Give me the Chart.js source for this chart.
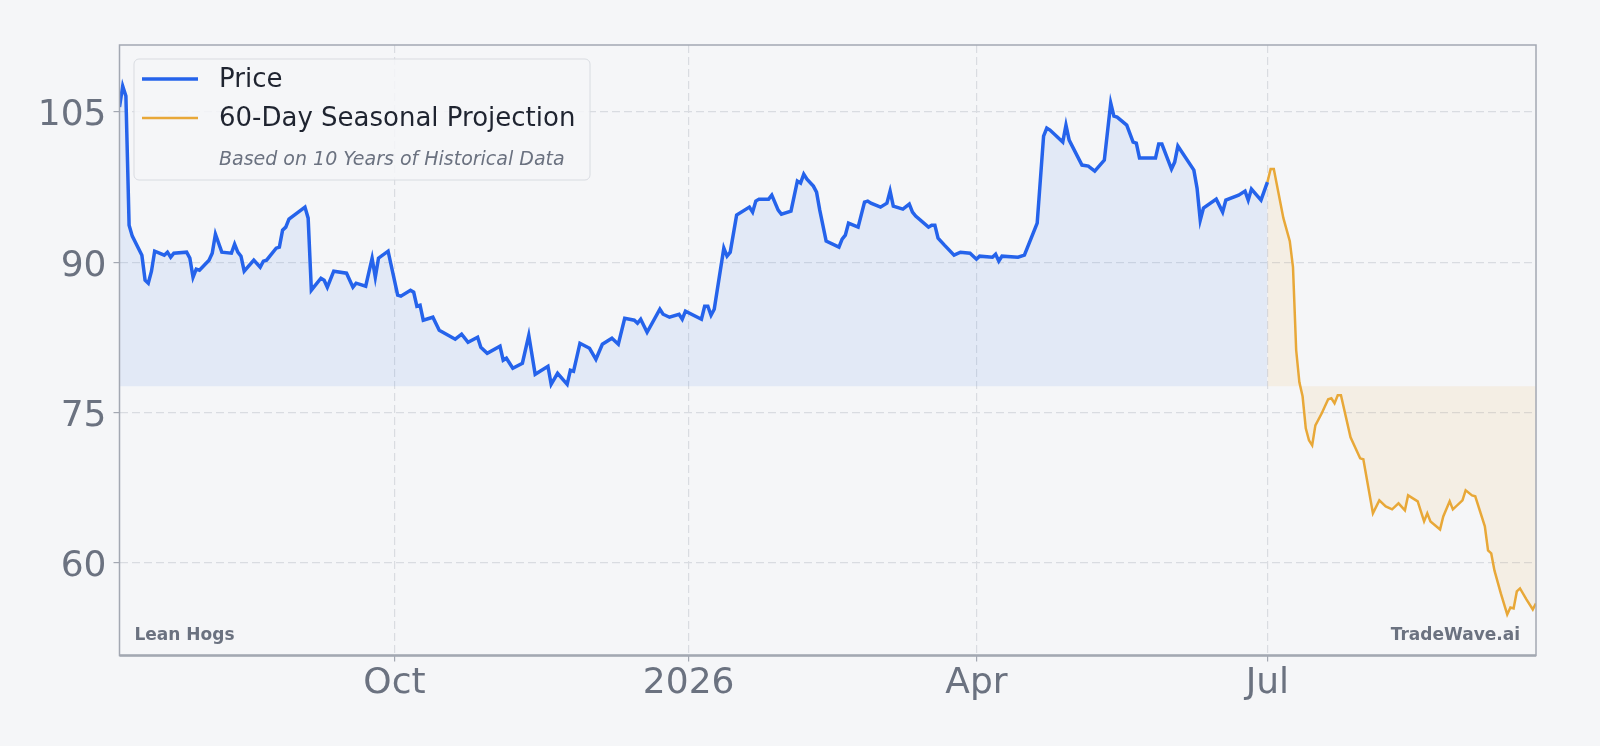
<!DOCTYPE html>
<html>
<head>
<meta charset="utf-8">
<title>Lean Hogs - Seasonal Projection</title>
<script src="https://cdn.jsdelivr.net/npm/chart.js@4.4.1/dist/chart.umd.min.js"></script>
<style>
    html, body { margin: 0; padding: 0; background: #f5f6f8; }
    #wrap { width: 1600px; height: 746px; position: relative; }
</style>
</head>
<body>
<div id="wrap"><canvas id="price-chart"></canvas></div>
<script>
// Days counted from 2025-07-07 (first price bar)
const priceDays = [
    0, 1, 2, 3, 4, 7, 8, 9, 10, 11, 14, 15, 16, 17, 21, 22, 23, 24, 25, 28,
    29, 30, 32, 35, 36, 37, 38, 39, 42, 44, 45, 46, 49, 50, 51, 52, 53, 58, 59, 60,
    63, 64, 65, 67, 71, 73, 74, 77, 79, 80, 81, 84, 87, 88, 91, 92, 93, 94, 95, 98,
    100, 105, 107, 109, 112, 113, 115, 119, 120, 121, 123, 126, 128, 130, 134, 135, 137, 140, 141, 142,
    144, 147, 149, 151, 154, 156, 158, 161, 162, 163, 165, 169, 170, 172, 175, 176, 177, 182, 183, 184,
    185, 186, 189, 190, 191, 193, 197, 198, 199, 200, 203, 204, 206, 207, 210, 212, 213, 214, 215, 217,
    218, 219, 221, 225, 226, 227, 228, 231, 233, 234, 235, 238, 240, 241, 242, 245, 247, 248, 249, 253,
    254, 255, 256, 258, 261, 263, 266, 268, 269, 273, 274, 275, 276, 281, 283, 287, 289, 290, 291, 295,
    296, 297, 301, 303, 305, 308, 310, 311, 312, 315, 317, 318, 319, 324, 325, 326, 329, 330, 331, 336,
    337, 338, 339, 343, 345, 346, 350, 352, 353, 354, 357, 359
];
const priceValues = [
    105.5, 107.6, 106.6, 93.7, 92.6, 90.7, 88.2, 87.9, 89.1, 91.1, 90.7, 91.0, 90.5, 90.9, 91.0, 90.4, 88.5, 89.3, 89.2, 90.2,
    90.9, 92.8, 91.0, 90.9, 91.8, 91.0, 90.6, 89.1, 90.2, 89.5, 90.1, 90.2, 91.4, 91.5, 93.2, 93.5, 94.3, 95.5, 94.4, 87.2,
    88.4, 88.2, 87.5, 89.1, 88.9, 87.5, 87.9, 87.6, 90.4, 88.5, 90.4, 91.1, 86.7, 86.6, 87.2, 87.0, 85.6, 85.7, 84.2, 84.5,
    83.2, 82.3, 82.8, 82.0, 82.5, 81.5, 80.9, 81.6, 80.2, 80.4, 79.4, 79.9, 82.7, 78.8, 79.6, 77.8, 78.9, 77.8, 79.2, 79.1,
    81.9, 81.4, 80.3, 81.8, 82.4, 81.8, 84.4, 84.2, 83.9, 84.3, 83.0, 85.3, 84.8, 84.5, 84.8, 84.3, 85.1, 84.3, 85.6, 85.6,
    84.7, 85.3, 91.4, 90.6, 91.0, 94.7, 95.5, 95.0, 96.1, 96.3, 96.3, 96.7, 95.2, 94.8, 95.1, 98.1, 97.9, 98.8, 98.3, 97.6,
    97.0, 95.2, 92.1, 91.5, 92.3, 92.7, 93.9, 93.5, 96.0, 96.1, 95.9, 95.5, 95.9, 97.1, 95.6, 95.3, 95.8, 95.0, 94.6, 93.5,
    93.7, 93.7, 92.4, 91.7, 90.7, 91.0, 90.9, 90.3, 90.6, 90.5, 90.8, 90.1, 90.6, 90.5, 90.7, 93.9, 102.6, 103.4, 103.2, 102.0,
    103.7, 102.2, 99.7, 99.6, 99.1, 100.2, 105.9, 104.6, 104.5, 103.7, 102.0, 101.9, 100.4, 100.4, 101.8, 101.8, 99.3, 100.0, 101.6, 99.2,
    97.4, 94.2, 95.4, 96.3, 95.0, 96.2, 96.7, 97.1, 96.2, 97.3, 96.2, 98.0
];

const projDays = [
    359, 360, 361, 364, 366, 367, 368, 369, 370, 371, 372, 373, 374, 376, 378, 379, 380, 381, 382, 385,
    388, 389, 392, 394, 396, 398, 400, 402, 403, 406, 408, 409, 410, 413, 414, 416, 417, 420, 421, 423,
    424, 427, 428, 429, 430, 432, 434, 435, 436, 437, 438, 440, 442, 443
];
const projValues = [
    98.0, 99.3, 99.3, 94.4, 92.1, 89.5, 81.2, 78.0, 76.6, 73.4, 72.2, 71.7, 73.7, 74.9, 76.3, 76.4, 75.9, 76.7, 76.7, 72.5,
    70.4, 70.3, 64.9, 66.2, 65.6, 65.3, 65.9, 65.2, 66.7, 66.1, 64.1, 64.9, 64.1, 63.3, 64.6, 66.1, 65.3, 66.2, 67.2, 66.7,
    66.6, 63.6, 61.2, 60.9, 59.2, 56.9, 54.8, 55.5, 55.4, 57.1, 57.4, 56.3, 55.3, 55.9
];

// Fill baseline (lowest close of the period)
const fillBase = 77.6;

// Axis ticks
const xTickDays = [86, 178, 268, 359];
const xTickLabels = ['Oct', '2026', 'Apr', 'Jul'];
const yTickValues = [60, 75, 90, 105];
const yTickLabels = ['60', '75', '90', '105'];

const FONT = "'DejaVu Sans', sans-serif";
const GRID = '#d9dce1';
const FRAME = '#a3a8b2';
const MUTED = '#6b7280';

function toPoints(xs, ys) {
    return xs.map((x, i) => ({ x: x, y: ys[i] }));
}

// Frame, watermark texts and the in-plot legend
const decorPlugin = {
    id: 'decor',
    afterDraw(chart) {
        const ctx = chart.ctx;
        const a = chart.chartArea;
        ctx.save();

        // plot frame
        ctx.strokeStyle = FRAME;
        ctx.lineWidth = 1.5;
        ctx.strokeRect(a.left, a.top, a.right - a.left, a.bottom - a.top);
        ctx.lineWidth = 2.5;
        ctx.beginPath();
        ctx.moveTo(a.left, a.bottom);
        ctx.lineTo(a.right, a.bottom);
        ctx.stroke();

        // corner labels
        ctx.fillStyle = MUTED;
        ctx.font = `bold 17px ${FONT}`;
        ctx.textBaseline = 'alphabetic';
        ctx.textAlign = 'left';
        ctx.fillText('Lean Hogs', a.left + 15, a.bottom - 16);
        ctx.textAlign = 'right';
        ctx.fillText('TradeWave.ai', a.right - 16, a.bottom - 16);

        // legend box
        const bx = 134, by = 59, bw = 456, bh = 121;
        ctx.beginPath();
        ctx.roundRect(bx, by, bw, bh, 5);
        ctx.fillStyle = 'rgba(245, 246, 248, 0.85)';
        ctx.fill();
        ctx.strokeStyle = '#d8dbe0';
        ctx.lineWidth = 1;
        ctx.stroke();

        const rows = [79, 118];
        chart.data.datasets.forEach((ds, i) => {
            ctx.strokeStyle = ds.borderColor;
            ctx.lineWidth = ds.borderWidth;
            ctx.beginPath();
            ctx.moveTo(142, rows[i]);
            ctx.lineTo(198, rows[i]);
            ctx.stroke();
            ctx.fillStyle = '#1f2430';
            ctx.font = `26px ${FONT}`;
            ctx.textAlign = 'left';
            ctx.textBaseline = 'middle';
            ctx.fillText(ds.label, 219, rows[i] + 1);
        });
        ctx.fillStyle = MUTED;
        ctx.font = `italic 19px ${FONT}`;
        ctx.textBaseline = 'alphabetic';
        ctx.fillText('Based on 10 Years of Historical Data', 219, 165);

        ctx.restore();
    }
};

function initChart() {
    const chartCtx = document.getElementById('price-chart').getContext('2d');
    return new Chart(chartCtx, {
        type: 'line',
        data: {
            datasets: [{
                label: 'Price',
                data: toPoints(priceDays, priceValues),
                borderColor: '#2563eb',
                borderWidth: 3.5,
                backgroundColor: 'rgba(37, 99, 235, 0.085)',
                fill: { value: fillBase },
                pointRadius: 0,
                tension: 0
            }, {
                label: '60-Day Seasonal Projection',
                data: toPoints(projDays, projValues),
                borderColor: '#e8a838',
                borderWidth: 2.5,
                backgroundColor: 'rgba(232, 167, 56, 0.1)',
                fill: { value: fillBase },
                pointRadius: 0,
                tension: 0
            }]
        },
        options: {
            responsive: true,
            maintainAspectRatio: false,
            animation: false,
            layout: { padding: { top: 45, right: 64, left: 0, bottom: 0 } },
            plugins: {
                legend: { display: false },
                tooltip: { enabled: false }
            },
            scales: {
                x: {
                    type: 'linear',
                    min: 0,
                    max: 443,
                    afterFit: (s) => { s.height = 90.5; },
                    afterBuildTicks: (s) => { s.ticks = xTickDays.map(v => ({ value: v })); },
                    border: { display: false, dash: [8, 4] },
                    grid: {
                        color: GRID,
                        tickColor: FRAME,
                        tickLength: 6,
                        lineWidth: 1.2
                    },
                    ticks: {
                        autoSkip: false,
                        maxRotation: 0,
                        padding: 1,
                        color: MUTED,
                        font: { family: FONT, size: 36 },
                        callback: (value, index) => xTickLabels[index]
                    }
                },
                y: {
                    min: 50.7,
                    max: 111.7,
                    afterFit: (s) => { s.width = 119.5; },
                    afterBuildTicks: (s) => { s.ticks = yTickValues.map(v => ({ value: v })); },
                    border: { display: false, dash: [8, 4] },
                    grid: {
                        color: GRID,
                        tickColor: FRAME,
                        tickLength: 6,
                        lineWidth: 1.2
                    },
                    ticks: {
                        padding: 7,
                        labelOffset: 4,
                        color: MUTED,
                        font: { family: FONT, size: 36 },
                        callback: (value, index) => yTickLabels[index]
                    }
                }
            }
        },
        plugins: [decorPlugin]
    });
}

document.addEventListener('DOMContentLoaded', initChart);
</script>
</body>
</html>
